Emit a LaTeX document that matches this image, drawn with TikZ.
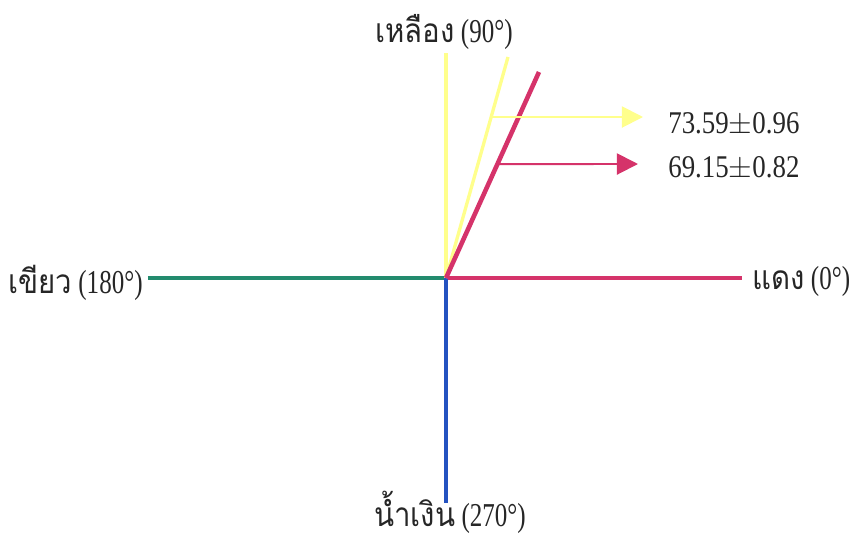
\documentclass[tikz,border=0pt]{standalone}
\usepackage{fontspec}
\setmainfont{Liberation Serif}
\newfontfamily\thaifont[Script=Thai, FakeStretch=0.88]{Loma}
\newfontfamily\condfont[FakeStretch=0.75]{Liberation Serif}
\newfontfamily\valfont[FakeStretch=0.85]{Liberation Serif}
\usepackage{tikz}
\usetikzlibrary{calc,arrows.meta}
\usepackage{xcolor}
\definecolor{hueyellow}{HTML}{FFFF8C}
\definecolor{huered}{HTML}{D5336A}
\definecolor{huegreen}{HTML}{238B6E}
\definecolor{hueblue}{HTML}{2452C0}
\newcommand{\thword}[1]{{\thaifont #1}}
\tikzset{
  axis/.style={line width=1.9pt},
  slant/.style={line width=2.6pt},
  ptr/.style={-{Triangle[length=12pt,width=12pt]}, line width=1.1pt},
  axlbl/.style={font=\condfont\fontsize{19}{22}\selectfont, inner sep=0pt, text=black!85},
  vallbl/.style={font=\valfont\fontsize{18}{21}\selectfont, inner sep=0pt, anchor=base west, text=black!85},
}

\begin{document}
\begin{tikzpicture}[x=0.02cm, y=0.02cm]
  \useasboundingbox (-446,-261) rectangle (410,278);
  % axis ends
  \coordinate (O) at (0,0);
  \coordinate (E) at (296,0);
  \coordinate (W) at (-298,0);
  \coordinate (N) at (0,225);
  \coordinate (S) at (0,-225);
  % measured hue directions
  \coordinate (Y) at (62,221);
  \coordinate (R) at (93,206);
  % axis labels
  \node[axlbl, anchor=base] (lblN) at (-2,236) {\thword{เหลือง} (90°)};
  \node[axlbl, anchor=base east] (lblW) at (-303,-15) {\thword{เขียว} (180°)};
  \node[axlbl, anchor=base west] (lblE) at (306,-11) {\thword{แดง} (0°)};
  \node[axlbl, anchor=base] (lblS) at (4,-248) {\thword{น้ำเงิน} (270°)};
  % axes
  \draw[axis, draw=huegreen] (W) -- (O);
  \draw[axis, draw=huered] (O) -- (E);
  \draw[axis, draw=hueblue] (O) -- (S);
  \draw[axis, draw=hueyellow] (O) -- (N);
  % measured angles
  \draw[axis, draw=hueyellow] (O) -- (Y);
  \draw[slant, draw=huered] (O) -- (R);
  % value pointers
  \coordinate (rtip) at (192,114);
  \coordinate (ytip) at (197,161);
  \draw[ptr, draw=huered, fill=huered] ($(O)!0.553!(R)$) -- (rtip);
  \draw[ptr, draw=hueyellow, fill=hueyellow] ($(O)!0.7285!(Y)$) -- (ytip);
  \node[vallbl] (valY) at (222,145) {73.59$\pm$0.96};
  \node[vallbl] (valR) at (222,101) {69.15$\pm$0.82};
\end{tikzpicture}
\end{document}
